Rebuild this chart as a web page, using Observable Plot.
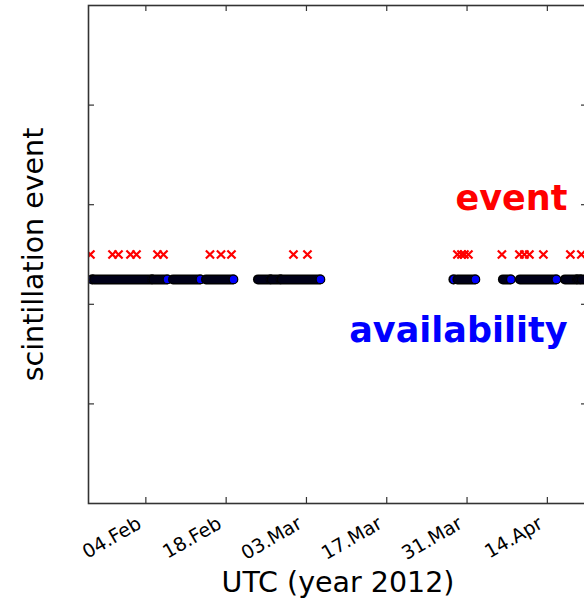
<!DOCTYPE html>
<html>
<head>
<meta charset="utf-8">
<script src="https://cdn.jsdelivr.net/npm/d3@7"></script>
<script src="https://cdn.jsdelivr.net/npm/@observablehq/plot@0.6"></script>
<style>
  html, body { margin: 0; padding: 0; background: #fff; overflow: hidden; }
  #chart svg { max-width: none !important; }
</style>
</head>
<body>
<div id="chart"></div>
<script>
// Detected scintillation events (UTC, 2012)
const eventTimes = [
  "2012-01-25T08:00Z", "2012-01-29T04:24Z", "2012-01-30T05:30Z", "2012-02-01T07:42Z",
  "2012-02-02T08:48Z", "2012-02-06T00:40Z", "2012-02-07T01:45Z", "2012-02-15T04:16Z",
  "2012-02-17T02:18Z", "2012-02-18T22:13Z", "2012-02-29T17:36Z", "2012-03-03T04:09Z",
  "2012-03-29T07:40Z", "2012-03-30T00:25Z", "2012-03-30T13:00Z", "2012-03-31T05:41Z",
  "2012-04-06T01:50Z", "2012-04-09T03:00Z", "2012-04-10T00:00Z", "2012-04-10T20:53Z",
  "2012-04-13T07:26Z", "2012-04-18T00:23Z", "2012-04-19T22:25Z"
];

// Receiver availability: continuous runs of samples, [first, last]
const availabilityStarts = [
  "2012-01-25T16:44Z", "2012-01-26T01:06Z", "2012-02-05T07:55Z", "2012-02-08T19:35Z",
  "2012-02-14T13:38Z", "2012-02-23T15:10Z", "2012-02-25T23:40Z", "2012-02-27T17:28Z",
  "2012-03-28T17:01Z", "2012-03-29T09:45Z", "2012-04-06T08:05Z", "2012-04-09T07:13Z",
  "2012-04-17T03:27Z", "2012-04-19T09:50Z", "2012-04-20T00:30Z"
];
const availabilityEnds = [
  "2012-01-25T16:44Z", "2012-02-05T01:39Z", "2012-02-07T18:29Z", "2012-02-13T12:32Z",
  "2012-02-19T06:36Z", "2012-02-25T17:23Z", "2012-02-27T11:13Z", "2012-03-05T10:32Z",
  "2012-03-28T17:01Z", "2012-04-01T10:58Z", "2012-04-07T15:29Z", "2012-04-15T13:50Z",
  "2012-04-19T03:35Z", "2012-04-19T18:12Z", "2012-04-21T12:03Z"
];

// Vertical levels of the two series
const eventLevel = 2.5;
const availabilityLevel = 2.25;

// Axis ticks
const xTickDates = ["2012-02-04", "2012-02-18", "2012-03-03", "2012-03-17", "2012-03-31", "2012-04-14"];
const yTickValues = [1, 2, 3, 4];
const xDomain = ["2012-01-25", "2012-04-21"];
const yDomain = [0, 5];

const seriesNames = ["event", "availability"];
const xTitle = "UTC (year 2012)";
const yTitle = "scintillation event";

const W = 590, H = 600, mL = 88, mR = 3, mT = 5, mB = 97;
const innerW = W - mL - mR, innerH = H - mT - mB;
const spine = "#333";
const tickFormat = d3.utcFormat("%d.%b");

const xTicks = xTickDates.map(d => new Date(d + "T00:00Z"));
const runs = availabilityStarts.map((s, i) => ({start: new Date(s), end: new Date(availabilityEnds[i])}));

// Each run is drawn in time order so later samples overlap earlier ones
const runMarks = runs.flatMap(run => [
  Plot.ruleY([run], {x1: "start", x2: "end", y: () => availabilityLevel,
    stroke: "black", strokeWidth: 10, strokeLinecap: "round", clip: true}),
  Plot.ruleY([run], {x1: "start", x2: "end", y: () => availabilityLevel,
    stroke: "#000018", strokeWidth: 7, strokeLinecap: "round", clip: true}),
  Plot.dot([run], {x: "end", y: () => availabilityLevel,
    r: 4.3, fill: "blue", stroke: "black", strokeWidth: 1.2, clip: true})
]);

const chart = Plot.plot({
  width: W,
  height: H,
  marginLeft: mL,
  marginRight: mR,
  marginTop: mT,
  marginBottom: mB,
  style: {fontFamily: "DejaVu Sans", fontSize: "18px", color: "black", background: "white", maxWidth: "none"},
  x: {type: "utc", domain: xDomain.map(d => new Date(d + "T00:00Z")), axis: null},
  y: {domain: yDomain, axis: null},
  marks: [
    ...runMarks,
    Plot.dot(eventTimes, {x: d => new Date(d), y: () => eventLevel, symbol: "times",
      r: 3.8, stroke: "red", strokeWidth: 2.2, clip: true}),
    // inward ticks on all four sides
    Plot.tickX(xTicks, {x: d => d, stroke: spine, strokeWidth: 1.2, insetTop: innerH - 6}),
    Plot.tickX(xTicks, {x: d => d, stroke: spine, strokeWidth: 1.2, insetBottom: innerH - 6}),
    Plot.tickY(yTickValues, {y: d => d, stroke: spine, strokeWidth: 1.2, insetRight: innerW - 6}),
    Plot.tickY(yTickValues, {y: d => d, stroke: spine, strokeWidth: 1.2, insetLeft: innerW - 6}),
    // rotated date labels under the frame
    Plot.text(xTicks, {x: d => d, text: d => tickFormat(d), frameAnchor: "bottom", rotate: -30,
      textAnchor: "end", lineAnchor: "top", dx: -10, dy: 12, fontSize: 19, fill: "black"}),
    Plot.frame({stroke: spine, strokeWidth: 1.6}),
    Plot.text([xTitle], {text: d => d, frameAnchor: "bottom", dy: 79, fontSize: 28.5, lineAnchor: "middle"}),
    Plot.text([yTitle], {text: d => d, frameAnchor: "left", textAnchor: "middle", rotate: -90, dx: -55,
      fontSize: 28.5, lineAnchor: "middle"}),
    Plot.text([seriesNames[0]], {text: d => d, frameAnchor: "right", textAnchor: "end", dx: -20, dy: -56,
      fill: "red", fontWeight: "bold", fontSize: 35}),
    Plot.text([seriesNames[1]], {text: d => d, frameAnchor: "right", textAnchor: "end", dx: -20, dy: 76,
      fill: "blue", fontWeight: "bold", fontSize: 35})
  ]
});

document.getElementById("chart").appendChild(chart);
</script>
</body>
</html>
